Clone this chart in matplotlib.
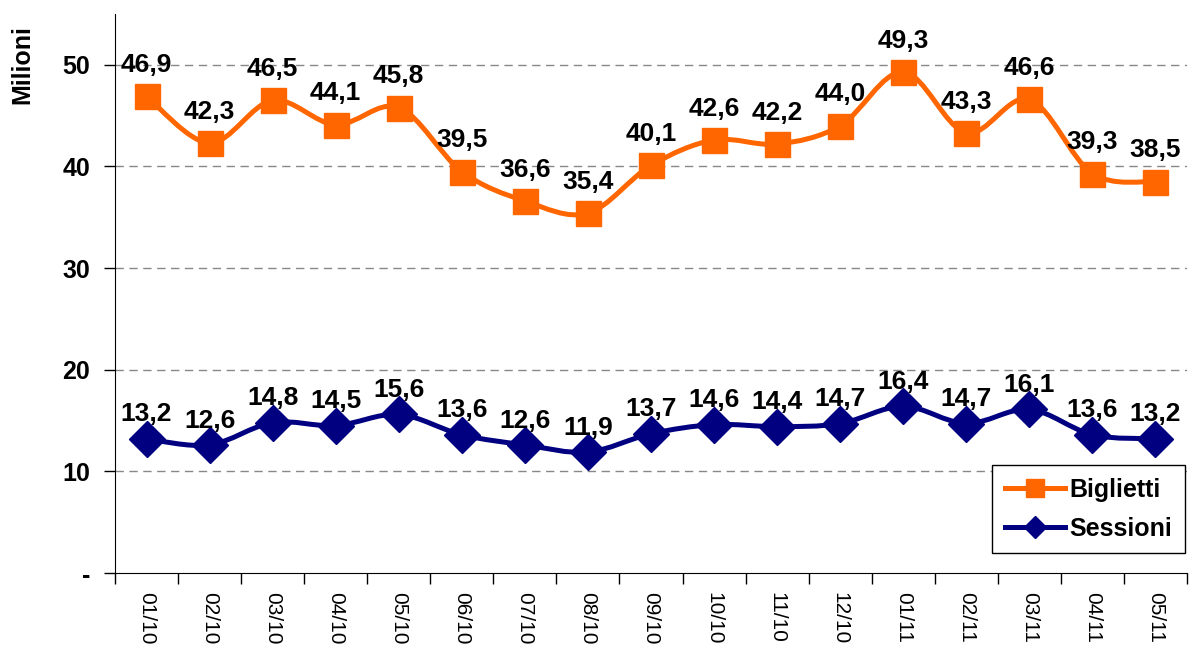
import numpy as np
import matplotlib.pyplot as plt
from matplotlib.path import Path
from matplotlib.patches import PathPatch
from matplotlib.lines import Line2D

plt.rcParams['font.family'] = ['Liberation Sans', 'DejaVu Sans']

## data ##
mesi = ['01/10', '02/10', '03/10', '04/10', '05/10', '06/10', '07/10', '08/10', '09/10',
        '10/10', '11/10', '12/10', '01/11', '02/11', '03/11', '04/11', '05/11']
biglietti = [46.9, 42.3, 46.5, 44.1, 45.8, 39.5, 36.6, 35.4, 40.1,
             42.6, 42.2, 44.0, 49.3, 43.3, 46.6, 39.3, 38.5]
sessioni = [13.2, 12.6, 14.8, 14.5, 15.6, 13.6, 12.6, 11.9, 13.7,
            14.6, 14.4, 14.7, 16.4, 14.7, 16.1, 13.6, 13.2]

col_big = '#FF6600'
col_ses = '#000080'


def smooth_path(x, y):
    # excel-like smoothed line: catmull-rom segments as cubic bezier
    pts = np.column_stack([x, y]).astype(float)
    n = len(pts)
    verts = [pts[0]]
    codes = [Path.MOVETO]
    for i in range(n - 1):
        p0 = pts[i - 1] if i > 0 else pts[i]
        p1, p2 = pts[i], pts[i + 1]
        p3 = pts[i + 2] if i + 2 < n else pts[i + 1]
        verts += [p1 + (p2 - p0) / 6, p2 - (p3 - p1) / 6, p2]
        codes += [Path.CURVE4] * 3
    return Path(verts, codes)


fig = plt.figure(figsize=(11.92, 6.45), dpi=100)
ax = fig.add_axes([115 / 1192, 1 - 573 / 645, 1072 / 1192, 559 / 645])

x = np.arange(len(mesi))
for vals, col, mk, ms, off in [(biglietti, col_big, 's', 18, 17.5), (sessioni, col_ses, 'D', 18, 12.5)]:
    ax.add_patch(PathPatch(smooth_path(x, vals), facecolor='none', edgecolor=col,
                           lw=3.6, zorder=3, capstyle='round', joinstyle='round'))
    ax.plot(x, vals, ls='none', marker=mk, ms=ms, color=col, zorder=4)
    for xi, v in zip(x, vals):
        ax.annotate(f'{v:.1f}'.replace('.', ','), (xi, v), xytext=(0, off),
                    textcoords='offset points', ha='center', va='baseline',
                    fontsize=19, fontweight='bold', zorder=5)

ax.set_xlim(-0.5, len(mesi) - 0.5)
ax.set_ylim(0, 55)
ax.set_yticks([0, 10, 20, 30, 40, 50])
ax.set_yticklabels(['-', '10', '20', '30', '40', '50'], fontsize=18, fontweight='bold')
ax.set_xticks(x)
ax.set_xticklabels(mesi, rotation=270, fontsize=15)
ax.set_xticks(np.arange(len(mesi) + 1) - 0.5, minor=True)
ax.tick_params(axis='x', which='major', length=0, pad=14)
ax.tick_params(axis='x', which='minor', length=8, direction='out', width=1)
ax.tick_params(axis='y', length=8, width=1, pad=10)

for yv in [10, 20, 30, 40, 50]:
    ax.axhline(yv, color='#888888', lw=1, ls=(0, (6, 4)), zorder=1)
for s in ['top', 'right']:
    ax.spines[s].set_visible(False)

fig.text(22 / 1192, 1 - 65 / 645, 'Milioni', rotation=90, ha='center', va='center',
         fontsize=18, fontweight='bold')

handles = [Line2D([], [], color=col_big, lw=3.6, marker='s', ms=13),
           Line2D([], [], color=col_ses, lw=3.6, marker='D', ms=11)]
leg = ax.legend(handles, ['Biglietti', 'Sessioni'], loc='lower right',
                bbox_to_anchor=(1185 / 1192, 1 - 553 / 645), bbox_transform=fig.transFigure,
                prop={'size': 18, 'weight': 'bold'}, fancybox=False, framealpha=1,
                edgecolor='black', handlelength=2.4, handletextpad=0.2,
                labelspacing=0.6, borderpad=0.5, borderaxespad=0)
leg.get_frame().set_linewidth(1)

fig.savefig('out.png', dpi=100)
